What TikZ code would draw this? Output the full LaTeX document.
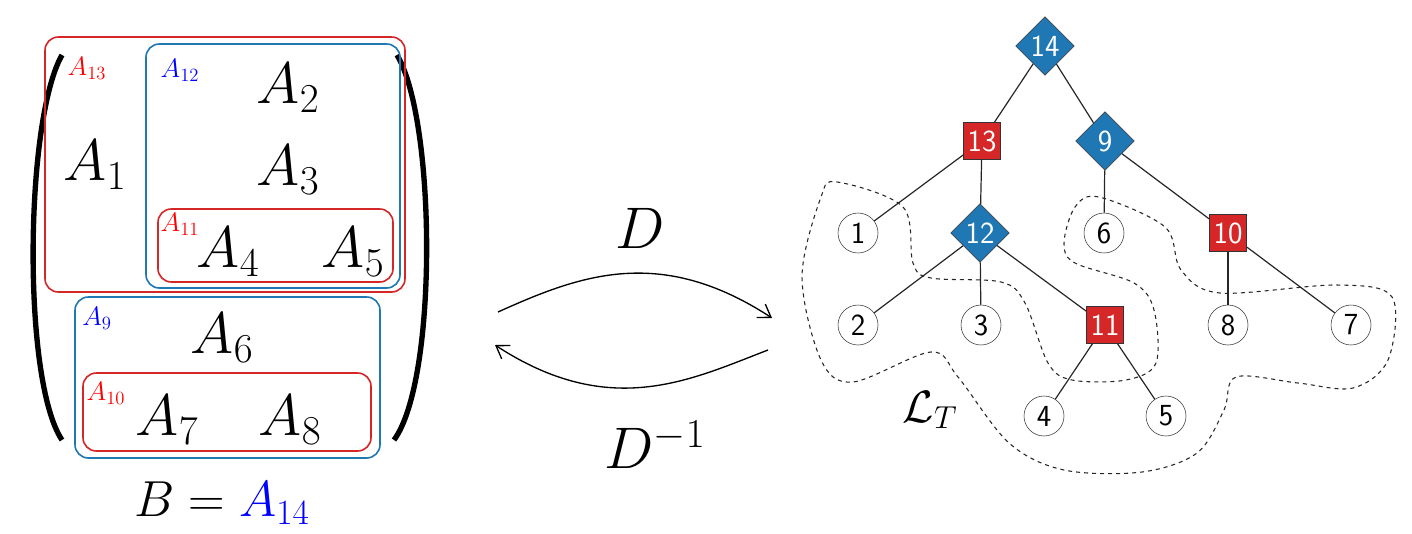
\RequirePackage{fix-cm}
\documentclass[tikz,border=0pt]{standalone}
\usetikzlibrary{shapes.geometric,arrows.meta}
\definecolor{tred}{HTML}{D62728}
\definecolor{tblue}{HTML}{1F77B4}
\begin{document}
\begin{tikzpicture}[x=0.75pt,y=-0.75pt,
  big/.style={font=\fontsize{44}{50}\selectfont, inner sep=0},
  lab/.style={font=\fontsize{20}{24}\selectfont, inner sep=0},
  rbox/.style={draw=tred, line width=1.2pt, rounded corners=10pt},
  bbox/.style={draw=tblue, line width=1.2pt, rounded corners=10pt},
  leaf/.style={circle, draw=black!80, fill=white, minimum size=30pt, inner sep=0, font=\sffamily\fontsize{23}{26}\selectfont},
  sq/.style={rectangle, draw=black!80, fill=tred, text=white, minimum size=28pt, inner sep=0, font=\sffamily\fontsize{23}{26}\selectfont},
  dia/.style={diamond, draw=black!80, fill=tblue, text=white, minimum size=44pt, inner sep=0, font=\sffamily\fontsize{23}{26}\selectfont},
  edge/.style={draw=black!85, line width=0.9pt}]
\useasboundingbox (0,0) rectangle (1412,533);
% matrix
\draw[line width=4pt] (62,55) .. controls (25,120) and (22,380) .. (62,440);
\draw[line width=4pt] (397,55) .. controls (436,120) and (438,380) .. (394,440);
\draw[rbox] (45,37) rectangle (405,292);
\draw[bbox] (146,44) rectangle (400,288);
\draw[rbox] (158,209) rectangle (393,282);
\draw[bbox] (75,297) rectangle (380,458);
\draw[rbox] (83,373) rectangle (371,451);
\node[lab,text=red] (l13) at (87,68) {$A_{13}$};
\node[lab,text=blue] (l12) at (180,70) {$A_{12}$};
\node[lab,text=red] (l11) at (180,224) {$A_{11}$};
\node[lab,text=blue] (l9) at (97,318) {$A_{9}$};
\node[lab,text=red] (l10) at (106,393) {$A_{10}$};
\node[big] (a1) at (95,165) {$A_1$};
\node[big] (a2) at (288,88) {$A_2$};
\node[big] (a3) at (288,170) {$A_3$};
\node[big] (a4) at (228,252) {$A_4$};
\node[big] (a5) at (353,252) {$A_5$};
\node[big] (a6) at (222,338) {$A_6$};
\node[big] (a7) at (167,420) {$A_7$};
\node[big] (a8) at (290,420) {$A_8$};
\node[inner sep=0,font=\fontsize{38}{44}\selectfont] (b) at (222,503) {$B = {\color{blue}A_{14}}$};
% arrows
\node[big] (d) at (640,228) {$D$};
\node[big] (di) at (655,445) {$D^{-1}$};
\coordinate (t1) at (498,312); \coordinate (t2) at (772,318);
\coordinate (b1) at (768,350); \coordinate (b2) at (495,345);
\draw[line width=1pt,-{Straight Barb[length=9pt,width=12pt]}] (t1) .. controls (580,275) and (660,245) .. (t2);
\draw[line width=1pt,-{Straight Barb[length=9pt,width=12pt]}] (b1) .. controls (690,380) and (610,420) .. (b2);
% dashed region
\draw[dashed, line width=0.8pt, black!85] plot[smooth cycle, tension=0.55] coordinates {
 (837,182) (903,207) (913,263) (931,278) (1001,282) (1025,303) (1048,363) (1072,380)
 (1126,380) (1156,363) (1154,310) (1134,283) (1075,263) (1064,243) (1075,207) (1099,197)
 (1165,227) (1181,270) (1220,293) (1337,285) (1392,297) (1388,360) (1353,388) (1298,383)
 (1236,377) (1224,410) (1197,453) (1142,472) (1064,470) (1009,443) (958,377) (931,352)
 (853,382) (821,360) (802,277) (821,197)};
\node[inner sep=0,font=\fontsize{34}{40}\selectfont] (lt) at (930,410) {$\mathcal{L}_T$};
% tree
\node[dia] (n14) at (1045,46) {14};
\node[sq] (n13) at (982,141) {13};
\node[dia] (n9) at (1105,141) {9};
\node[leaf] (n1) at (858,233) {1};
\node[dia] (n12) at (980,233) {12};
\node[leaf] (n6) at (1104,233) {6};
\node[sq] (n10) at (1228,233) {10};
\node[leaf] (n2) at (858,325) {2};
\node[leaf] (n3) at (981,325) {3};
\node[sq] (n11) at (1105,325) {11};
\node[leaf] (n8) at (1228,325) {8};
\node[leaf] (n7) at (1351,325) {7};
\node[leaf] (n4) at (1044,416) {4};
\node[leaf] (n5) at (1166,416) {5};
\foreach \a/\b in {n14/n13,n14/n9,n13/n1,n13/n12,n9/n6,n9/n10,n12/n2,n12/n3,n12/n11,n10/n8,n10/n7,n11/n4,n11/n5}
  \draw[edge] (\a) -- (\b);
\end{tikzpicture}
\end{document}
